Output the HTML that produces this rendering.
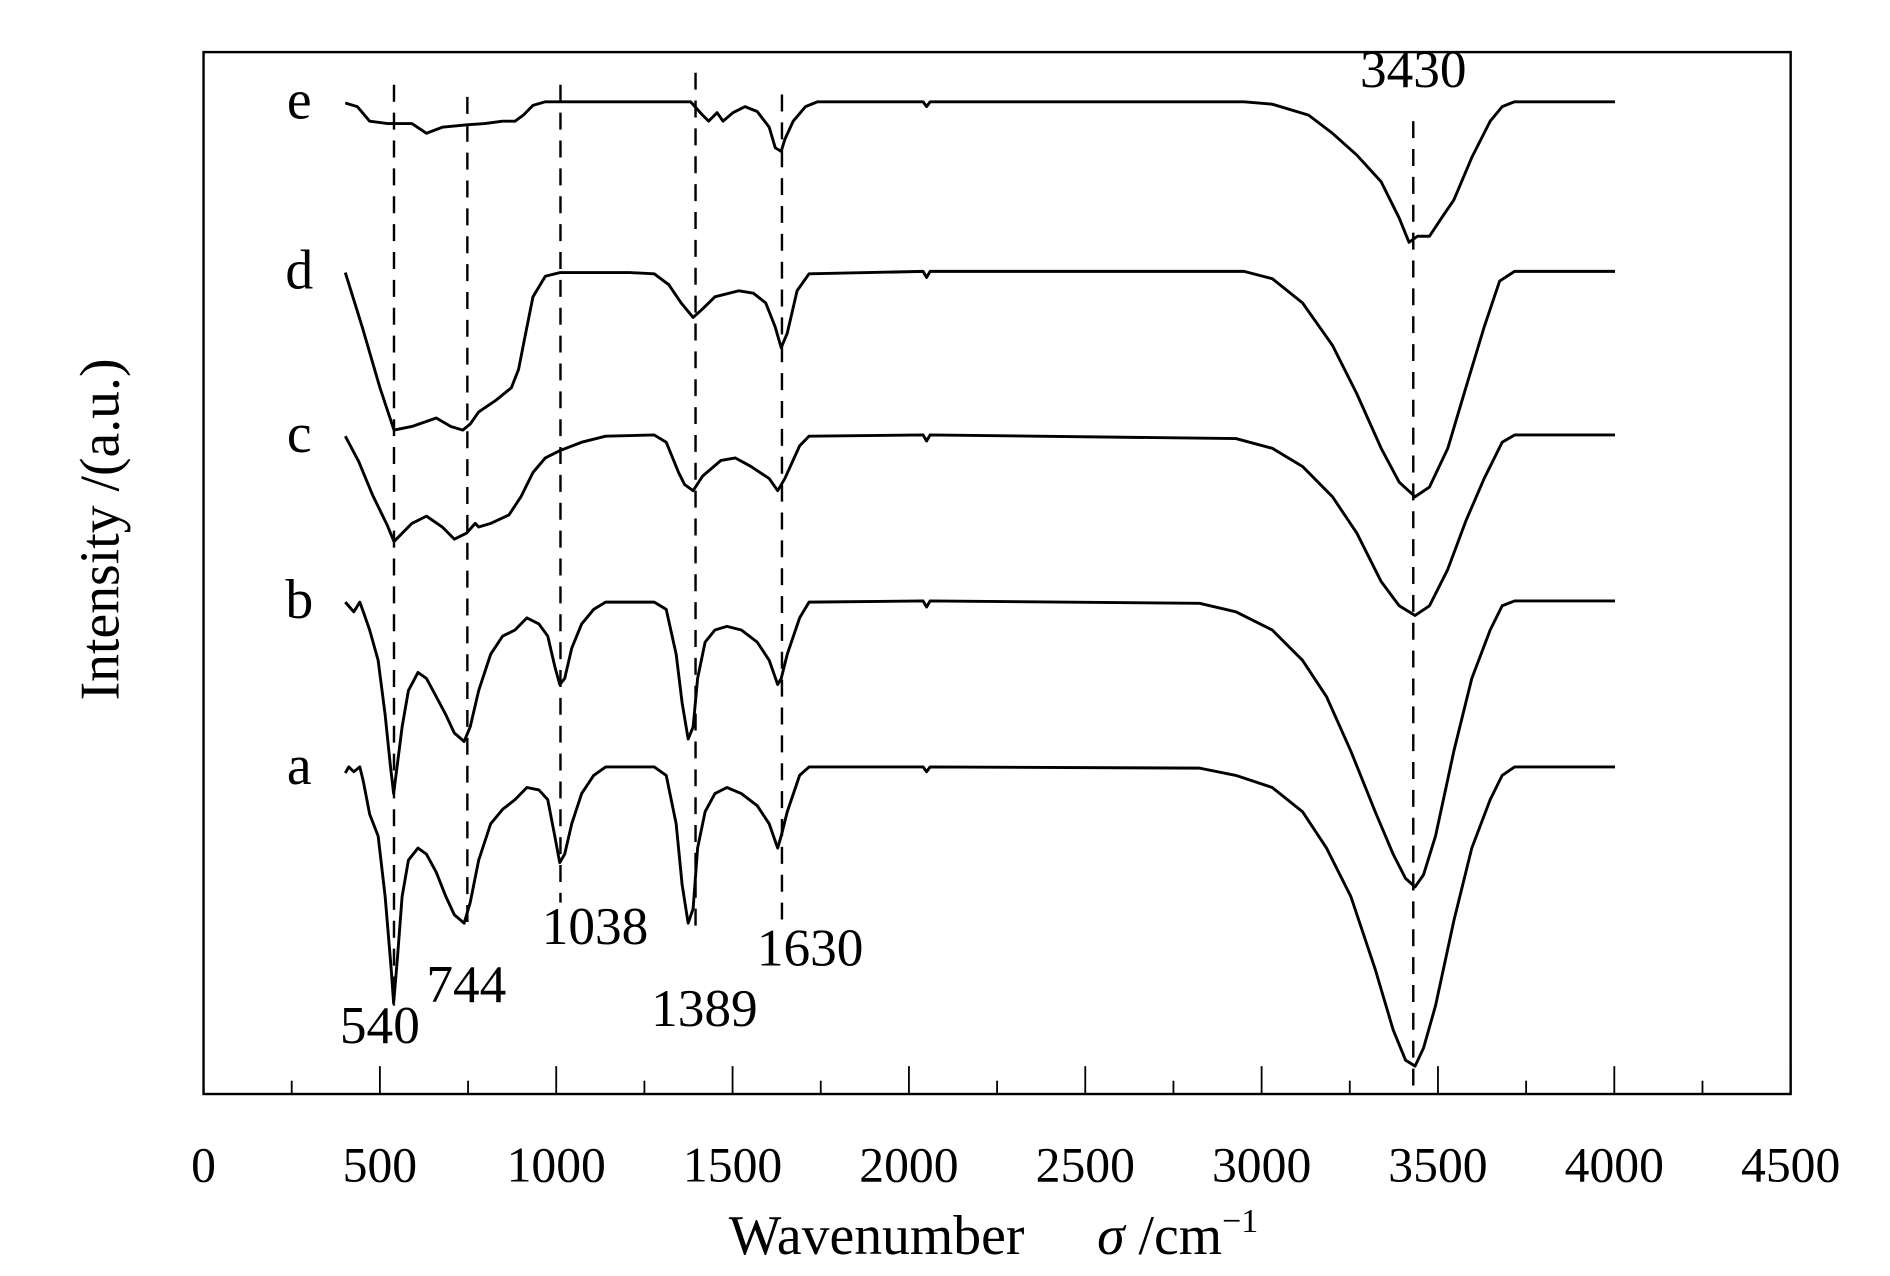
<!DOCTYPE html>
<html><head><meta charset="utf-8"><style>
html,body{margin:0;padding:0;background:#fff}
svg{display:block}
text{font-family:"Liberation Serif",serif;fill:#000}
</style></head><body>
<svg id="chart" width="1890" height="1276" viewBox="0 0 1560 1053.2" xmlns="http://www.w3.org/2000/svg">
<rect x="168" y="43" width="1310" height="860" fill="none" stroke="#000" stroke-width="2"/>
<g id="xticks"></g>
<g id="guides"></g>
<g id="series"></g>
<g id="labels"></g>
<text x="820" y="1035" font-size="46" text-anchor="middle">Wavenumber<tspan dx="60" font-style="italic">σ</tspan><tspan> /cm</tspan><tspan dy="-18" font-size="28">−1</tspan></text>
<text transform="translate(98,437) rotate(-90)" font-size="46" text-anchor="middle">Intensity /(a.u.)</text>
</svg>
<script>
const xTicks=[0,500,1000,1500,2000,2500,3000,3500,4000,4500];
const seriesNames=['a','b','c','d','e'];
const seriesOffsets=[270,407,544,679,819];
const seriesA=[[402,5],[412,0],[426,4],[443,0],[453,12],[471,39],[495,57],[515,107],[532,167],[539,195],[550,157],[563,107],[581,77],[608,67],[632,72],[660,87],[687,107],[711,122],[739,129],[756,112],[780,77],[814,47],[848,35],[883,27],[917,17],[951,19],[976,27],[996,57],[1010,79],[1024,72],[1044,47],[1072,22],[1106,7],[1140,0],[1278,0],[1312,7],[1340,47],[1357,97],[1374,129],[1388,117],[1401,67],[1422,37],[1450,22],[1484,17],[1525,22],[1570,32],[1604,47],[1628,67],[1638,57],[1655,37],[1690,7],[1717,0],[2040,0],[2050,4],[2060,0],[2824,1],[2927,7],[3030,17],[3116,37],[3184,67],[3253,107],[3322,167],[3373,217],[3408,242],[3435,247],[3459,232],[3493,197],[3545,127],[3596,67],[3648,27],[3682,7],[3717,0],[4002,0]];
const seriesB=[[402,1],[426,9],[443,1],[453,9],[471,24],[495,49],[515,94],[529,134],[539,159],[550,134],[563,104],[581,74],[608,59],[632,64],[660,79],[687,94],[711,109],[739,116],[756,104],[780,74],[814,44],[848,29],[883,24],[917,14],[951,19],[976,29],[996,54],[1010,69],[1024,64],[1044,39],[1072,19],[1106,7],[1140,1],[1278,1],[1312,7],[1340,44],[1357,84],[1374,114],[1388,104],[1401,64],[1422,34],[1450,24],[1484,21],[1525,24],[1570,34],[1604,49],[1628,69],[1638,64],[1655,44],[1690,14],[1717,1],[2040,0],[2050,5],[2060,0],[2824,2],[2927,9],[3030,24],[3116,49],[3184,79],[3253,124],[3322,174],[3373,209],[3408,229],[3435,236],[3459,226],[3493,194],[3545,124],[3596,64],[3648,24],[3682,4],[3717,0],[4002,0]];
const seriesC=[[402,1],[440,22],[480,50],[520,74],[540,88],[591,73],[632,67],[677,76],[711,86],[746,81],[770,73],[780,76],[814,73],[866,66],[900,51],[934,31],[969,19],[1010,13],[1072,6],[1140,1],[1278,0],[1312,6],[1347,31],[1364,41],[1388,46],[1415,34],[1467,21],[1508,19],[1552,26],[1604,36],[1628,46],[1648,36],[1690,9],[1717,1],[2040,0],[2050,5],[2060,0],[2927,3],[3030,11],[3116,26],[3201,51],[3270,81],[3339,121],[3390,141],[3435,149],[3476,141],[3528,111],[3579,71],[3631,36],[3682,6],[3717,0],[4002,0]];
const seriesD=[[402,1],[450,46],[500,96],[540,131],[591,128],[660,121],[701,128],[735,131],[756,126],[780,116],[831,106],[873,96],[893,81],[910,56],[934,21],[969,4],[1010,1],[1209,1],[1278,2],[1319,11],[1354,26],[1388,38],[1415,31],[1450,21],[1518,16],[1559,18],[1594,26],[1621,46],[1638,63],[1655,51],[1683,16],[1717,2],[2040,0],[2050,5],[2060,0],[2950,0],[3030,6],[3116,26],[3201,61],[3270,101],[3339,146],[3390,174],[3435,186],[3476,178],[3528,146],[3579,96],[3631,46],[3675,8],[3717,0],[4002,0]];
const seriesE=[[402,1],[436,4],[471,16],[522,18],[591,18],[632,26],[677,21],[746,19],[797,18],[848,16],[883,16],[907,11],[934,3],[969,0],[1381,0],[1415,11],[1432,16],[1456,9],[1473,16],[1501,9],[1535,4],[1570,8],[1604,21],[1621,38],[1638,41],[1648,31],[1672,16],[1707,4],[1741,0],[2040,0],[2050,4],[2060,0],[2950,0],[3030,2],[3133,11],[3201,26],[3270,44],[3339,66],[3390,96],[3418,116],[3442,111],[3476,111],[3510,96],[3545,81],[3596,46],[3648,16],[3682,4],[3717,0],[4002,0]];
const guidePositions=[540,748,1012,1395,1640,3430];
const guideTops=[833,823,833,843,825,803];
const guideBottoms=[73,133,158,138,143,0];
const peakLabels=['540','744','1038','1389','1630','3430'];
const peakLabelW=[500,745,1110,1420,1720,3430];
const peakLabelV=[42,76,124,56,106,831];

const allSeries=[seriesA,seriesB,seriesC,seriesD,seriesE];
const NS='http://www.w3.org/2000/svg';
const X=w=>168+w*1310/4500;
const Y=v=>903-v;
function mk(tag,parent,attrs){const e=document.createElementNS(NS,tag);for(const k in attrs)e.setAttribute(k,attrs[k]);parent.appendChild(e);return e;}
const gx=document.getElementById('xticks');
for(let t=0;t<=4500;t+=250){
  const major=t%500===0;
  const l=mk('line',gx,{x1:X(t),x2:X(t),y1:903,y2:major?880:892,stroke:'#000','stroke-width':1.5});
  
  
}
xTicks.forEach(t=>{
  const tx=mk('text',gx,{x:X(t),y:975,'font-size':41,'text-anchor':'middle'});
  tx.textContent=t;
  
  
});
const gg=document.getElementById('guides');
guidePositions.forEach((w,i)=>{
  const l=mk('line',gg,{x1:X(w),x2:X(w),y1:Y(guideTops[i]),y2:Y(guideBottoms[i]),stroke:'#000','stroke-width':2,'stroke-dasharray':'14,9'});
  
  
});
const gs=document.getElementById('series');
const gl=document.getElementById('labels');
allSeries.forEach((s,i)=>{
  const off=seriesOffsets[i];
  const d=s.map((p,j)=>(j?'L':'M')+X(p[0]).toFixed(1)+' '+Y(off-p[1]).toFixed(1)).join(' ');
  const p=mk('path',gs,{d:d,fill:'none',stroke:'#000','stroke-width':2.4,'stroke-linejoin':'round'});
  
  
  const t=mk('text',gl,{x:247,y:Y(off)+14,'font-size':46,'text-anchor':'middle'});
  t.textContent=seriesNames[i];
  
  
});
peakLabels.forEach((s,i)=>{
  const t=mk('text',gl,{x:X(peakLabelW[i]),y:Y(peakLabelV[i]),'font-size':44,'text-anchor':'middle'});
  t.textContent=s;
  
  
});
</script>
</body></html>
